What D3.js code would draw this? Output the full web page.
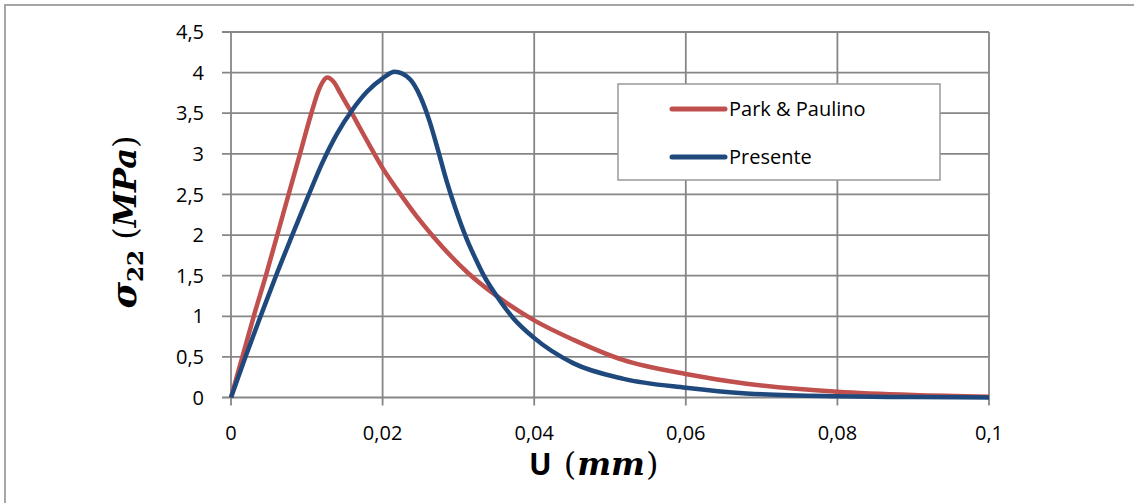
<!DOCTYPE html>
<html>
<head>
<meta charset="utf-8">
<script src="https://cdn.jsdelivr.net/npm/d3@7"></script>
<style>
  html, body { margin: 0; padding: 0; background: #fff; }
  svg { display: block; }
</style>
</head>
<body>
<svg id="chart" width="1134" height="503"></svg>
<script>
// ---- data ----
const seriesNames = ["Park & Paulino", "Presente"];
const parkX = [0, 0.0015, 0.0030, 0.0046, 0.0061, 0.0076, 0.0091, 0.0106, 0.0116, 0.0122, 0.0127, 0.0136, 0.0144, 0.0157, 0.0170, 0.0183, 0.0199, 0.0223, 0.0245, 0.0267, 0.0313, 0.0349, 0.04, 0.0452, 0.0518, 0.06, 0.068, 0.08, 0.09, 0.1];
const parkY = [0, 0.50, 1.00, 1.50, 2.00, 2.50, 3.00, 3.50, 3.79, 3.90, 3.94, 3.88, 3.75, 3.54, 3.32, 3.10, 2.84, 2.51, 2.23, 1.98, 1.53, 1.26, 0.95, 0.71, 0.46, 0.29, 0.17, 0.07, 0.03, 0.01];
const presX = [0, 0.0019, 0.0039, 0.0059, 0.0080, 0.0101, 0.0120, 0.0140, 0.0160, 0.0180, 0.0200, 0.0216, 0.0236, 0.0250, 0.0262, 0.0273, 0.0284, 0.0296, 0.0311, 0.0322, 0.0333, 0.0349, 0.0373, 0.0399, 0.0452, 0.0518, 0.06, 0.068, 0.08, 0.09, 0.1];
const presY = [0, 0.50, 1.00, 1.49, 1.98, 2.46, 2.88, 3.25, 3.54, 3.77, 3.93, 4.01, 3.92, 3.70, 3.40, 3.05, 2.68, 2.33, 1.95, 1.72, 1.51, 1.27, 0.97, 0.74, 0.42, 0.23, 0.12, 0.05, 0.015, 0.005, 0];
const xTicks = [0, 0.02, 0.04, 0.06, 0.08, 0.1];
const xTickLabels = ["0", "0,02", "0,04", "0,06", "0,08", "0,1"];
const yTicks = [0, 0.5, 1, 1.5, 2, 2.5, 3, 3.5, 4, 4.5];
const yTickLabels = ["0", "0,5", "1", "1,5", "2", "2,5", "3", "3,5", "4", "4,5"];
const colors = ["#C0504D", "#1F497D"];

// ---- layout ----
const SANS = "'Open Sans', 'Noto Sans', sans-serif";
const SERIF = "'DejaVu Serif', 'Liberation Serif', serif";
const svg = d3.select("#chart");
const L = 231, R = 989, T = 32, B = 397.5;
const x = d3.scaleLinear().domain([0, 0.1]).range([L, R]);
const y = d3.scaleLinear().domain([0, 4.5]).range([B, T]);

// outer frame
svg.append("rect").attr("x", 5).attr("y", 5).attr("width", 1200).attr("height", 600)
  .attr("fill", "none").attr("stroke", "#a6a6a6").attr("stroke-width", 2);

const gridColor = "#868686";
svg.append("g").selectAll("line").data(yTicks).join("line")
  .attr("x1", L - 9).attr("x2", R).attr("y1", d => y(d)).attr("y2", d => y(d))
  .attr("stroke", gridColor).attr("stroke-width", 1.8);
svg.append("g").selectAll("line").data(xTicks).join("line")
  .attr("x1", d => x(d)).attr("x2", d => x(d)).attr("y1", T).attr("y2", B + 8)
  .attr("stroke", gridColor).attr("stroke-width", 1.8);

// tick labels
svg.append("g").selectAll("text").data(yTicks).join("text")
  .attr("x", 204).attr("y", d => y(d)).attr("dy", "0.36em")
  .attr("text-anchor", "end").style("font-family", SANS).style("font-size", "20px")
  .text((d, i) => yTickLabels[i]);
svg.append("g").selectAll("text").data(xTicks).join("text")
  .attr("x", d => x(d)).attr("y", 440)
  .attr("text-anchor", "middle").style("font-family", SANS).style("font-size", "20px")
  .text((d, i) => xTickLabels[i]);

// lines
const line = d3.line().x(d => x(d[0])).y(d => y(d[1])).curve(d3.curveMonotoneX);
const data = [d3.zip(parkX, parkY), d3.zip(presX, presY)];
svg.append("g").selectAll("path").data(data).join("path")
  .attr("d", line).attr("fill", "none")
  .attr("stroke", (d, i) => colors[i]).attr("stroke-width", 4.5)
  .attr("stroke-linejoin", "round").attr("stroke-linecap", "butt");

// legend
const lg = svg.append("g");
lg.append("rect").attr("x", 618).attr("y", 84).attr("width", 322).attr("height", 96)
  .attr("fill", "#fff").attr("stroke", "#999").attr("stroke-width", 1.5);
seriesNames.forEach((name, i) => {
  const yy = 109 + i * 48;
  lg.append("line").attr("x1", 672).attr("x2", 725).attr("y1", yy).attr("y2", yy)
    .attr("stroke", colors[i]).attr("stroke-width", 5).attr("stroke-linecap", "round");
  lg.append("text").attr("x", 729).attr("y", yy).attr("dy", "0.36em")
    .style("font-family", SANS).style("font-size", "20px").text(name);
});

// y axis title
const yt = svg.append("text")
  .attr("transform", "translate(136,222) rotate(-90)")
  .attr("text-anchor", "middle")
  .style("font-family", SERIF).style("font-weight", "bold").style("font-size", "32px");
yt.append("tspan").style("font-style", "italic").style("font-size", "36px").text("σ");
yt.append("tspan").style("font-size", "23px").attr("dy", 7).text("22");
yt.append("tspan").attr("dy", -7).style("font-weight", "normal").text(" (");
yt.append("tspan").style("font-style", "italic").text("MPa");
yt.append("tspan").style("font-weight", "normal").text(")");

// x axis title
const xt = svg.append("text").attr("x", 529).attr("y", 475)
  .style("font-weight", "bold").style("font-size", "32px").style("font-family", SERIF);
xt.append("tspan").style("font-family", SANS).style("font-size", "30px").text("U");
xt.append("tspan").attr("dx", 12).style("font-weight", "normal").text("(");
xt.append("tspan").attr("dx", 1).style("font-style", "italic").text("mm");
xt.append("tspan").attr("dx", 1).style("font-weight", "normal").text(")");
</script>
</body>
</html>
